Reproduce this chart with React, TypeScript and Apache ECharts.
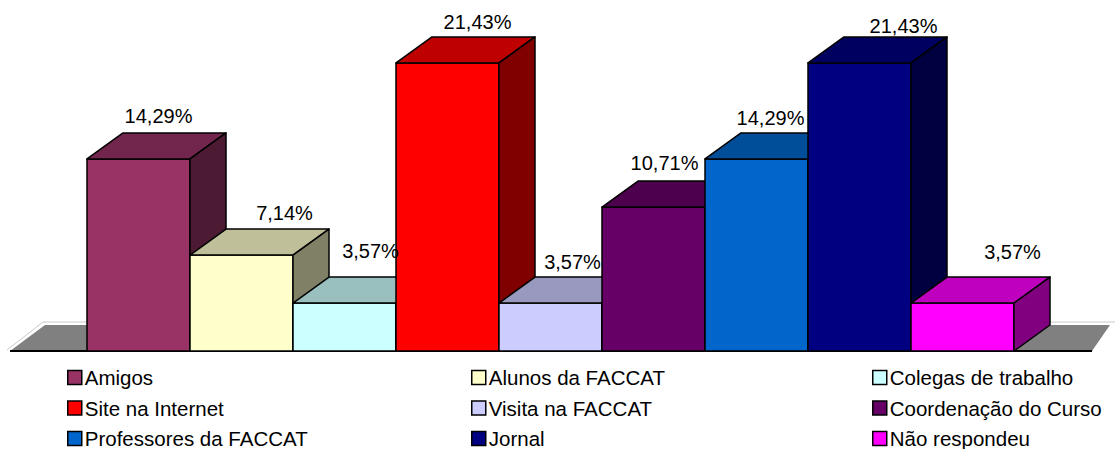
import React, { useEffect, useRef } from "react";
import * as echarts from "echarts";

const categories = [
  "Amigos",
  "Alunos da FACCAT",
  "Colegas de trabalho",
  "Site na Internet",
  "Visita na FACCAT",
  "Coordenação do Curso",
  "Professores da FACCAT",
  "Jornal",
  "Não respondeu",
];
const values = [14.29, 7.14, 3.57, 21.43, 3.57, 10.71, 14.29, 21.43, 3.57];
const colors = [
  "#993366",
  "#FFFFCC",
  "#CCFFFF",
  "#FF0000",
  "#CCCCFF",
  "#660066",
  "#0066CC",
  "#000080",
  "#FF00FF",
];
// label nudges (px) relative to the front-top centre of each bar
const labelOffsets = [
  [20, -43],
  [43, -42],
  [26, -52],
  [30, -41],
  [22, -41],
  [11, -44],
  [14, -41],
  [44, -37],
  [50, -51],
];

const DX = 36;
const DY = 26;
const FONT = "'Liberation Sans', Arial, sans-serif";

function shade(hex: string, f: number) {
  const n = parseInt(hex.slice(1), 16);
  const r = Math.round(((n >> 16) & 255) * f);
  const g = Math.round(((n >> 8) & 255) * f);
  const b = Math.round((n & 255) * f);
  return `rgb(${r},${g},${b})`;
}

function fmt(v: number) {
  return v.toFixed(2).replace(".", ",") + "%";
}

export default function App() {
  const ref = useRef<HTMLDivElement>(null);
  useEffect(() => {
    if (!ref.current) return;
    const chart = echarts.init(ref.current, undefined, { renderer: "svg" });

    const floorSeries: any = {
      type: "custom",
      name: "__floor",
      silent: true,
      z: 1,
      data: [[0, 0]],
      renderItem: (params: any) => {
        const cs = params.coordSys;
        const yb = cs.y + cs.height;
        const xl = cs.x - 77;
        const xr = cs.x + cs.width + 78;
        return {
          type: "group",
          children: [
            {
              type: "polyline",
              shape: {
                points: [
                  [xl - 3, yb - 1],
                  [xl + 33, yb - 29],
                  [1115, yb - 29],
                ],
              },
              style: { stroke: "#c8c8c8", lineWidth: 1, fill: null },
            },
            {
              type: "polygon",
              shape: {
                points: [
                  [xl, yb],
                  [xr, yb],
                  [xr + 18, yb - 26],
                  [xl + 35, yb - 26],
                ],
              },
              style: { fill: "#808080", stroke: null },
            },
            {
              type: "line",
              shape: { x1: xl, y1: yb, x2: xr, y2: yb },
              style: { stroke: "#000", lineWidth: 2 },
            },
          ],
        };
      },
    };

    const barSeries = categories.map((name, i) => ({
      type: "custom",
      name,
      z: 2,
      itemStyle: { color: colors[i], borderColor: "#000", borderWidth: 1.5 },
      data: [[i, values[i]]],
      encode: { x: 0, y: 1 },
      renderItem: (params: any, api: any) => {
        const x = api.value(0);
        const v = api.value(1);
        const top = api.coord([x, v]);
        const bot = api.coord([x, 0]);
        const w = api.size([1, 0])[0];
        const l = top[0] - w / 2;
        const r = top[0] + w / 2;
        const yt = top[1];
        const yb = bot[1];
        const line = { stroke: "#000", lineWidth: 1.5, lineJoin: "round" };
        const off = labelOffsets[i];
        return {
          type: "group",
          children: [
            {
              type: "rect",
              shape: { x: l, y: yt, width: w, height: yb - yt },
              style: { fill: colors[i], ...line },
            },
            {
              type: "polygon",
              shape: {
                points: [
                  [l, yt],
                  [r, yt],
                  [r + DX, yt - DY],
                  [l + DX, yt - DY],
                ],
              },
              style: { fill: shade(colors[i], 0.75), ...line },
            },
            {
              type: "polygon",
              shape: {
                points: [
                  [r, yt],
                  [r + DX, yt - DY],
                  [r + DX, yb - DY],
                  [r, yb],
                ],
              },
              style: { fill: shade(colors[i], 0.5), ...line },
            },
            {
              type: "text",
              z2: 100,
              x: top[0] + off[0],
              y: yt + off[1],
              style: {
                text: fmt(values[i]),
                fontSize: 20,
                fontFamily: FONT,
                fill: "#000",
                align: "center",
                verticalAlign: "middle",
              },
            },
          ],
        };
      },
    }));

    const legendLefts = [67, 471, 872];
    const legends = [0, 1, 2].map((c) => ({
      orient: "vertical",
      left: legendLefts[c],
      top: 367,
      height: 90,
      padding: 0,
      itemWidth: 14,
      itemHeight: 14,
      itemGap: 9.5,
      icon: "rect",
      selectedMode: false,
      itemStyle: { borderColor: "#000", borderWidth: 1.5 },
      textStyle: {
        fontSize: 20.5,
        fontFamily: FONT,
        color: "#000",
        lineHeight: 20,
        padding: [0, 0, 0, -2],
      },
      data: categories.filter((_, i) => i % 3 === c),
    }));

    chart.setOption({
      animation: false,
      backgroundColor: "#fff",
      grid: { left: 87, right: 101, top: 15, bottom: 98 },
      xAxis: { type: "category", data: categories, show: false, boundaryGap: true },
      yAxis: { type: "value", min: 0, max: 25, show: false },
      legend: legends,
      series: [floorSeries, ...barSeries],
    });
    return () => chart.dispose();
  }, []);
  return (
    <div
      ref={ref}
      style={{ position: "fixed", left: 0, top: 0, width: 1115, height: 449 }}
    />
  );
}
